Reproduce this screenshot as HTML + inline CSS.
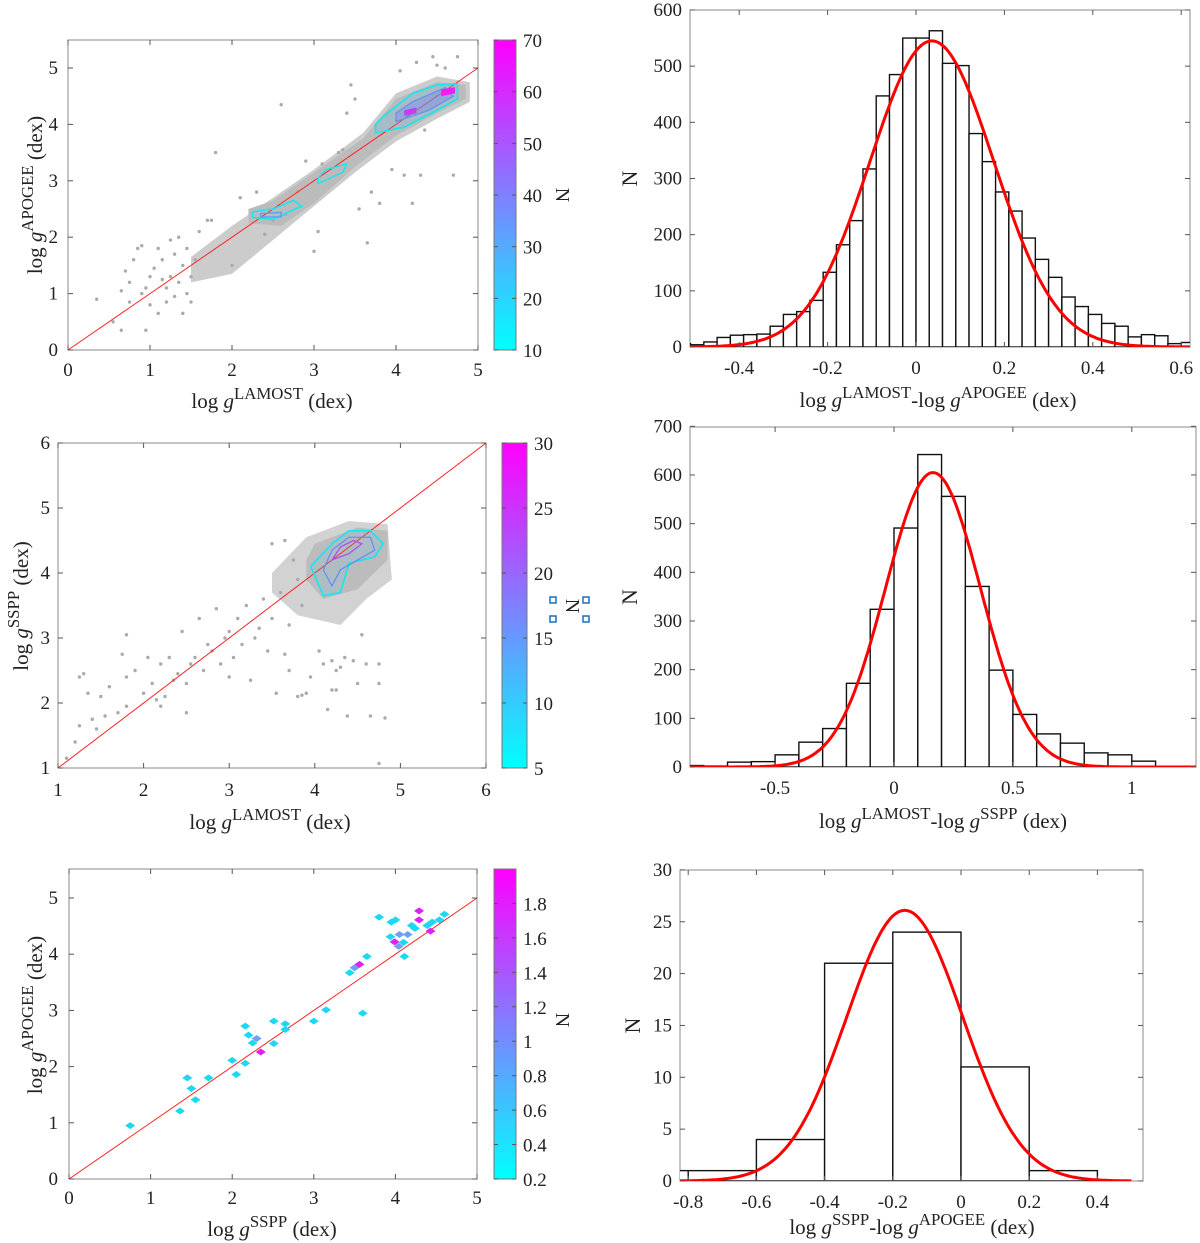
<!DOCTYPE html>
<html><head><meta charset="utf-8">
<style>
html,body{margin:0;padding:0;background:#fff;}
svg{display:block;font-family:"Liberation Serif",serif;}
</style></head>
<body>
<svg id="fig" width="1200" height="1243" viewBox="0 0 1200 1243" xmlns="http://www.w3.org/2000/svg">
<defs>
<linearGradient id="cool" x1="0" y1="1" x2="0" y2="0">
<stop offset="0" stop-color="#00ffff"/><stop offset="1" stop-color="#ff00ff"/>
</linearGradient>
</defs>
</svg>
<script>
// ---------- DATA ----------
const h1Start = -0.54, h1Width = 0.03;
const h1Counts = [6,4,9,17,21,22,23,37,58,63,83,133,182,225,317,447,485,550,550,563,505,501,380,330,276,242,194,156,124,89,72,58,42,37,18,22,20,6,8];
const h1Fit = {amp:545, mu:0.036, sigma:0.14};
const h1XTicks = [-0.4,-0.2,0,0.2,0.4,0.6];
const h1YTicks = [0,100,200,300,400,500,600];
const h2Start = -0.9, h2Width = 0.1;
const h2Counts = [3,2,10,11,25,51,79,172,324,491,642,556,371,199,108,68,49,29,25,12,1,1];
const h2Fit = {amp:605, mu:0.164, sigma:0.2};
const h2XTicks = [-0.5,0,0.5,1];
const h2YTicks = [0,100,200,300,400,500,600,700];
const h3Start = -1.0, h3Width = 0.2;
const h3Counts = [1,1,4,21,24,11,1];
const h3Fit = {amp:26.1, mu:-0.165, sigma:0.17};
const h3XTicks = [-0.8,-0.6,-0.4,-0.2,0,0.2,0.4];
const h3YTicks = [0,5,10,15,20,25,30];
const s1x = [0.35,0.55,0.65,0.65,0.7,0.75,0.85,0.9,0.95,0.95,1.0,1.05,1.1,1.1,1.15,1.2,1.2,1.25,1.3,1.35,1.35,1.4,1.45,1.45,1.5,1.5,1.55,1.6,1.7,1.8,1.75,2.0,2.1,2.3,2.4,2.5,2.6,2.65,2.8,2.9,3.0,3.05,3.1,3.3,3.35,3.4,3.45,3.5,3.55,3.65,3.7,3.8,3.95,4.05,4.1,4.2,4.35,4.45,4.5,4.6,4.7,4.75,4.25,4.3,0.8,1.25,0.75,0.9,1.0,1.15,1.3,1.4];
const s1y = [0.9,0.5,0.35,1.05,1.4,0.85,1.8,1.85,1.1,0.35,1.3,1.45,1.8,0.65,1.6,0.85,1.1,1.3,1.7,1.2,2.0,0.65,1.0,1.8,0.85,1.3,1.6,2.1,2.3,3.5,2.3,1.5,2.7,2.8,2.05,2.3,4.35,2.4,2.8,3.35,1.75,2.1,3.3,3.5,3.55,4.2,4.7,4.45,2.5,1.9,2.8,2.6,3.2,4.95,3.1,2.6,3.9,5.2,5.05,5.0,3.1,5.2,5.1,3.1,1.6,1.95,1.2,1.0,0.8,1.25,0.95,1.5];
const s2x = [4.05,4.1,4.2,4.25,4.3,4.35,4.45,4.6,4.75,4.2,4.15,4.25,4.5,4.75,4.38,4.65,4.82,4.75,4.55,3.95,3.9,3.85,1.1,1.2,1.25,1.25,1.3,1.35,1.4,1.45,1.5,1.55,1.6,1.7,1.75,1.8,1.8,1.8,1.9,2.0,2.05,2.1,2.2,2.25,2.3,2.4,2.45,2.5,2.5,2.6,2.65,2.7,2.8,2.85,2.9,3.0,3.0,3.1,3.15,3.2,3.25,3.3,3.4,3.45,3.5,3.55,3.6,3.65,3.7,3.75,3.7,3.8,3.8,3.85,3.5,3.65,2.15,2.35,2.55,2.75,2.95,3.35,3.05,2.2];
const s2y = [2.8,2.6,2.65,2.5,2.55,2.7,2.65,2.6,2.6,2.2,1.9,2.2,2.3,2.3,1.8,1.8,1.77,1.07,3.05,2.4,2.15,2.12,1.15,1.4,1.65,2.4,2.45,2.15,1.75,1.6,2.1,1.8,2.25,1.85,2.75,2.4,3.05,1.95,2.5,2.15,2.7,2.3,2.6,2.1,2.7,2.45,3.1,2.3,1.85,2.7,3.3,2.5,2.8,3.45,2.6,2.4,3.1,3.3,2.9,3.5,2.35,3.0,3.6,2.8,3.3,2.15,3.7,2.75,2.5,4.2,3.2,3.9,2.1,3.5,4.45,4.5,2.05,2.35,2.6,2.9,3.0,3.15,2.7,1.95];
const s3x = [0.75,1.36,1.45,1.5,1.55,1.71,2.0,2.05,2.16,2.16,2.2,2.25,2.3,2.35,2.51,2.51,2.65,2.65,3.0,3.15,3.44,3.5,3.56,3.65,3.6,3.8,3.95,4.0,3.94,3.99,4.04,4.05,4.1,4.11,4.15,4.2,4.24,4.29,4.29,4.39,4.45,4.43,4.54,4.6];
const s3y = [0.95,1.21,1.8,1.61,1.41,1.8,2.11,1.86,2.06,2.72,2.56,2.42,2.5,2.26,2.41,2.81,2.76,2.66,2.81,3.01,3.67,3.76,3.82,3.96,2.95,4.66,4.57,4.61,4.31,4.22,4.14,4.35,4.21,3.96,4.35,4.51,4.46,4.77,4.61,4.51,4.57,4.41,4.61,4.71];
const s3c = [0,0,0,0,0,0,0,0,0,0,0,0,0.4,1,0,0,0,0,0,0,0,0.3,1,0,0,0,0,0,0,1,0.4,0.3,0,0,0.2,0,0,1,1,0,0,1,0,0];

// ---------- HELPERS ----------
const svg = document.getElementById('fig');
const NS = 'http://www.w3.org/2000/svg';
function mk(tag, attrs, parent){
  const e = document.createElementNS(NS, tag);
  for (const k in attrs) e.setAttribute(k, attrs[k]);
  (parent||svg).appendChild(e);
  return e;
}
function lbl(x,y,txt,size,anchor,parent){
  const t = mk('text',{x:x,y:y,'font-size':size,'text-anchor':anchor||'middle',fill:'#222'},parent);
  t.textContent = txt;
  return t;
}
function fmt(v){ return (v<0?'-':'') + String(Math.abs(v)); }
function addSpan(t,txt,attrs){
  const s = mk('tspan',attrs||{},t);
  s.textContent = txt;
}
function richLabel(x,y,parts,post,size,rot,name){
  const t = mk('text',{x:x,y:y,'font-size':size,'text-anchor':'middle',fill:'#222'});
  
  
  if(rot) t.setAttribute('transform','rotate(-90 '+x+' '+y+')');
  parts.forEach(p=>{
    addSpan(t,p[0]);
    addSpan(t,'g',{'font-style':'italic'});
    addSpan(t,p[1],{dy:-9,'font-size':size*0.8});
    addSpan(t,p[2]||' ',{dy:9});
  });
  addSpan(t,post);
  return t;
}
function axesBox(x0,y0,x1,y1,name){
  const g = mk('g',{});
  
  
  mk('rect',{x:x0,y:y0,width:x1-x0,height:y1-y0,fill:'none',stroke:'#888','stroke-width':1},g);
  return g;
}
function ticksX(g,vals,X,yb,yt,labY,size){
  vals.forEach(v=>{
    const x = X(v);
    mk('line',{x1:x,y1:yb,x2:x,y2:yb-5,stroke:'#555'},g);
    mk('line',{x1:x,y1:yt,x2:x,y2:yt+5,stroke:'#555'},g);
    const t = lbl(x,labY,fmt(v),size,'middle',g);
    
    
  });
}
function ticksY(g,vals,Y,xl,xr,labX,size){
  vals.forEach(v=>{
    const y = Y(v);
    mk('line',{x1:xl,y1:y,x2:xl+5,y2:y,stroke:'#555'},g);
    mk('line',{x1:xr,y1:y,x2:xr-5,y2:y,stroke:'#555'},g);
    const t = lbl(labX,y+6,fmt(v),size,'end',g);
    
    
  });
}
function colorbar(x0,y0,x1,y1,vmin,vmax,ticks,name){
  const g = mk('g',{});
  
  
  mk('rect',{x:x0,y:y0,width:x1-x0,height:y1-y0,fill:'url(#cool)',stroke:'#777'},g);
  ticks.forEach(v=>{
    const y = y1-(v-vmin)/(vmax-vmin)*(y1-y0);
    mk('line',{x1:x0,y1:y,x2:x0+4,y2:y,stroke:'#555'},g);
    mk('line',{x1:x1,y1:y,x2:x1-4,y2:y,stroke:'#555'},g);
    const t = lbl(x1+7,y+7,String(v),19,'start',g);
    
    
  });
  return g;
}
function nLabel(x,y){
  const t = lbl(x,y,'N',20,'middle');
  t.setAttribute('transform','rotate(90 '+x+' '+y+')');
  
  
}
function poly(pts,X,Y,attrs,parent,name){
  const p = mk('polygon',Object.assign({points:pts.map(q=>X(q[0])+','+Y(q[1])).join(' ')},attrs),parent);
  
  
  return p;
}
function dots(xs,ys,X,Y,parent,name){
  xs.forEach((v,i)=>{
    const c = mk('circle',{cx:X(v),cy:Y(ys[i]),r:1.7,fill:'#aaa'},parent);
    
    
  });
}

// ---------- SCATTER 1 ----------
(function(){
  const X = v=>68+v*82, Y = v=>350-v*56.4;
  const g = axesBox(68,40,478,350,'scatter-lamost-apogee');
  poly([[1.5,1.2],[2.0,1.35],[2.5,1.95],[3.0,2.55],[3.5,3.15],[4.0,3.7],[4.5,4.1],[4.9,4.4],[4.9,4.75],[4.5,4.85],[4.0,4.55],[3.6,3.85],[3.0,3.2],[2.5,2.7],[2.0,2.2],[1.5,1.65]],X,Y,{fill:'#cccccc'},g,'sparse-points');
  poly([[2.2,2.25],[2.6,2.2],[3.0,2.6],[3.5,3.25],[4.0,3.8],[4.5,4.2],[4.85,4.45],[4.85,4.7],[4.5,4.75],[4.0,4.45],[3.6,3.75],[3.0,3.15],[2.5,2.65],[2.2,2.5]],X,Y,{fill:'#bbbbbb'},g,'dense-points');
  dots(s1x,s1y,X,Y,g,'scatter-point');
  mk('line',{x1:X(0),y1:Y(0),x2:X(5),y2:Y(5),stroke:'#f22','stroke-width':1},g);
  poly([[2.25,2.35],[2.5,2.32],[2.85,2.55],[2.75,2.65],[2.5,2.5],[2.25,2.45]],X,Y,{fill:'none',stroke:'#14e6f2','stroke-width':1.6},g,'contour-level');
  poly([[2.35,2.36],[2.6,2.36],[2.6,2.44],[2.35,2.42]],X,Y,{fill:'none',stroke:'#5aa0f0','stroke-width':1.4},g,'contour-level');
  poly([[3.05,2.95],[3.35,3.15],[3.4,3.3],[3.15,3.2],[3.05,3.05]],X,Y,{fill:'none',stroke:'#14e6f2','stroke-width':1.4},g,'contour-level');
  poly([[3.75,3.85],[4.1,3.95],[4.5,4.25],[4.75,4.45],[4.75,4.72],[4.5,4.7],[4.2,4.55],[3.85,4.15],[3.75,4.0]],X,Y,{fill:'rgba(80,200,240,0.2)',stroke:'#14e6f2','stroke-width':1.6},g,'contour-level');
  poly([[4.0,4.05],[4.4,4.25],[4.7,4.5],[4.6,4.65],[4.2,4.4],[4.0,4.2]],X,Y,{fill:'rgba(120,140,240,0.45)',stroke:'#6d8cf0','stroke-width':1.2},g,'contour-level');
  poly([[4.1,4.15],[4.25,4.2],[4.25,4.3],[4.1,4.25]],X,Y,{fill:'#c040f0'},g,'contour-peak');
  poly([[4.55,4.5],[4.72,4.55],[4.72,4.66],[4.55,4.62]],X,Y,{fill:'#ee20f0'},g,'contour-peak');
  ticksX(g,[0,1,2,3,4,5],X,350,40,376,19);
  ticksY(g,[0,1,2,3,4,5],Y,68,478,58,19);
  richLabel(272,408,[['log ','LAMOST',' ']],'(dex)',21,false,'x-axis-title');
  richLabel(42,195,[['log ','APOGEE',' ']],'(dex)',21,true,'y-axis-title');
  colorbar(494,40,516,350,10,70,[10,20,30,40,50,60,70],'colorbar-1');
  nLabel(556,195);
})();

// ---------- SCATTER 2 ----------
(function(){
  const X = v=>58+(v-1)*85.6, Y = v=>768-(v-1)*65;
  const g = axesBox(58,443,486,768,'scatter-lamost-sspp');
  poly([[3.5,3.7],[3.8,3.35],[4.3,3.2],[4.6,3.6],[4.9,3.9],[4.85,4.75],[4.4,4.8],[3.9,4.55],[3.5,4.0]],X,Y,{fill:'#d2d2d2'},g,'sparse-cloud');
  poly([[3.9,3.9],[4.1,3.6],[4.5,3.75],[4.85,4.2],[4.85,4.65],[4.5,4.7],[4.0,4.45],[3.9,4.2]],X,Y,{fill:'#bcbcbc'},g,'dense-points');
  dots(s2x,s2y,X,Y,g,'scatter-point');
  mk('line',{x1:X(1),y1:Y(1),x2:X(6),y2:Y(6),stroke:'#f22','stroke-width':1},g);
  poly([[3.95,4.1],[4.1,3.65],[4.3,3.7],[4.4,4.15],[4.7,4.25],[4.8,4.45],[4.65,4.65],[4.4,4.65],[4.2,4.45]],X,Y,{fill:'rgba(80,200,240,0.15)',stroke:'#14e6f2','stroke-width':1.6},g,'contour-level');
  poly([[4.1,4.05],[4.2,3.8],[4.3,4.05],[4.5,4.2],[4.7,4.35],[4.65,4.55],[4.4,4.55],[4.2,4.35]],X,Y,{fill:'none',stroke:'#6d8cf0','stroke-width':1.3},g,'contour-level');
  poly([[4.2,4.2],[4.4,4.3],[4.55,4.45],[4.45,4.5],[4.3,4.4]],X,Y,{fill:'none',stroke:'#b050f0','stroke-width':1.3},g,'contour-level');
  ticksX(g,[1,2,3,4,5,6],X,768,443,796,19);
  ticksY(g,[1,2,3,4,5,6],Y,58,486,50,19);
  richLabel(270,829,[['log ','LAMOST',' ']],'(dex)',21,false,'x-axis-title');
  richLabel(28,606,[['log ','SSPP',' ']],'(dex)',21,true,'y-axis-title');
  colorbar(502,443,527,768,5,30,[5,10,15,20,25,30],'colorbar-2');
  nLabel(566,606);
  [[550,597],[583,597],[550,616],[583,616]].forEach(p=>{
    const r = mk('rect',{x:p[0],y:p[1],width:6,height:6,fill:'none',stroke:'#1a6fb8','stroke-width':1.5});
    
    
  });
})();

// ---------- SCATTER 3 ----------
(function(){
  const X = v=>69+v*81.6, Y = v=>1179-v*56.2;
  const g = axesBox(69,869,477,1179,'scatter-sspp-apogee');
  mk('line',{x1:X(0),y1:Y(0),x2:X(5),y2:Y(5),stroke:'#f22','stroke-width':1},g);
  s3x.forEach((v,i)=>{
    const cx = X(v), cy = Y(s3y[i]);
    const col = s3c[i]>0.7 ? '#e020f0' : (s3c[i]>0 ? '#6fa0f4' : '#1cd8f2');
    const d = mk('polygon',{points:(cx-5)+','+cy+' '+cx+','+(cy-3.5)+' '+(cx+5)+','+cy+' '+cx+','+(cy+3.5),fill:col},g);
    
    
  });
  ticksX(g,[0,1,2,3,4,5],X,1179,869,1204,19);
  ticksY(g,[0,1,2,3,4,5],Y,69,477,58,19);
  richLabel(272,1236,[['log ','SSPP',' ']],'(dex)',21,false,'x-axis-title');
  richLabel(42,1015,[['log ','APOGEE',' ']],'(dex)',21,true,'y-axis-title');
  colorbar(494,869,516,1179,0.2,2.0,[0.2,0.4,0.6,0.8,1,1.2,1.4,1.6,1.8],'colorbar-3');
  nLabel(556,1020);
})();

// ---------- HISTOGRAMS ----------
function hist(cfg){
  const {x0,x1,y0,y1,X,Y,start,width,counts,fit,xt,yt,name} = cfg;
  const g = axesBox(x0,y0,x1,y1,name);
  const clip = 'clip-'+name;
  const cp = mk('clipPath',{id:clip},svg);
  mk('rect',{x:x0,y:y0,width:x1-x0,height:y1-y0},cp);
  const gb = mk('g',{'clip-path':'url(#'+clip+')'},g);
  counts.forEach((c,i)=>{
    const a = start+i*width, b = a+width;
    const r = mk('rect',{x:X(a),y:Y(c),width:X(b)-X(a),height:Y(0)-Y(c),fill:'#fff',stroke:'#111','stroke-width':1.4},gb);
    
    
  });
  let d='';
  const lo = start, hi = start+counts.length*width+0.1;
  for(let k=0;k<=300;k++){
    const v = lo+(hi-lo)*k/300;
    const f = fit.amp*Math.exp(-0.5*Math.pow((v-fit.mu)/fit.sigma,2));
    d += (k?'L':'M')+X(v).toFixed(1)+','+Y(f).toFixed(1);
  }
  const p = mk('path',{d:d,fill:'none',stroke:'#f00','stroke-width':3},gb);
  
  
  ticksX(g,xt,X,y1,y0,y1+27,19);
  ticksY(g,yt,Y,x0,x1,x0-8,19);
  const n = lbl(cfg.nx,(y0+y1)/2+7,'N',22,'middle');
  n.setAttribute('transform','rotate(-90 '+cfg.nx+' '+((y0+y1)/2)+')');
  
  
}
hist({x0:690,x1:1190,y0:10,y1:347,X:v=>916+v*442,Y:v=>347-v*0.5617,start:h1Start,width:h1Width,counts:h1Counts,fit:h1Fit,xt:h1XTicks,yt:h1YTicks,nx:630,name:'histogram-lamost-apogee'});
richLabel(938,407,[['log ','LAMOST','-'],['log ','APOGEE',' ']],'(dex)',21,false,'hist1-x-axis-title');
hist({x0:690,x1:1196,y0:427,y1:767,X:v=>894+v*237.8,Y:v=>767-v*0.4867,start:h2Start,width:h2Width,counts:h2Counts,fit:h2Fit,xt:h2XTicks,yt:h2YTicks,nx:630,name:'histogram-lamost-sspp'});
richLabel(943,828,[['log ','LAMOST','-'],['log ','SSPP',' ']],'(dex)',21,false,'hist2-x-axis-title');
hist({x0:680,x1:1143,y0:870,y1:1181,X:v=>961+v*341,Y:v=>1181-v*10.37,start:h3Start,width:h3Width,counts:h3Counts,fit:h3Fit,xt:h3XTicks,yt:h3YTicks,nx:633,name:'histogram-sspp-apogee'});
richLabel(912,1234,[['log ','SSPP','-'],['log ','APOGEE',' ']],'(dex)',21,false,'hist3-x-axis-title');
</script>
</body></html>
